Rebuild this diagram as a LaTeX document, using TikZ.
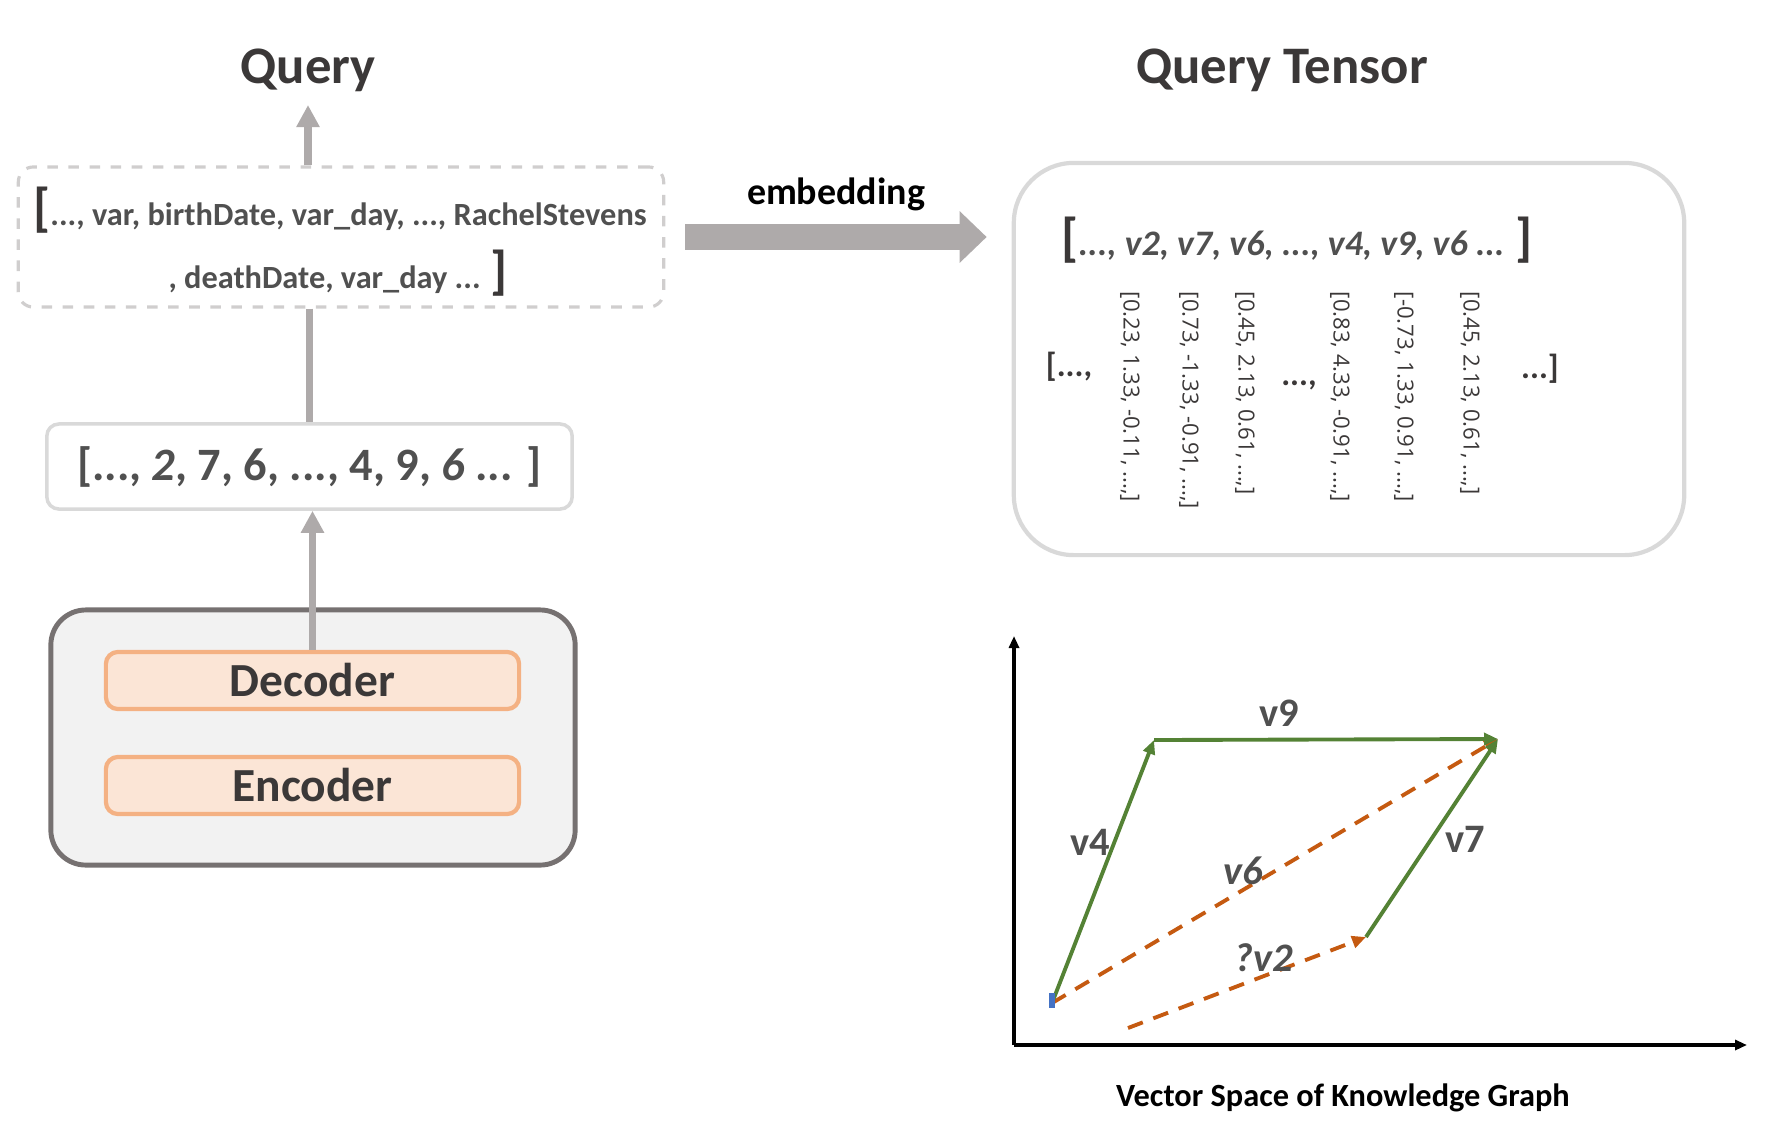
\documentclass[tikz,border=0pt]{standalone}
\usepackage{fontspec}
\setmainfont{Carlito}
\newfontfamily\colfont{Open Sans}
\usetikzlibrary{arrows.meta}

\definecolor{titlegray}{HTML}{3B3838}
\definecolor{textgray}{HTML}{505050}
\definecolor{arrowgray}{HTML}{AEAAAA}
\definecolor{linegray}{HTML}{D9D9D9}
\definecolor{dashgray}{HTML}{D0CECE}
\definecolor{modelgray}{HTML}{767171}
\definecolor{modelfill}{HTML}{F2F2F2}
\definecolor{coderfill}{HTML}{FBE5D6}
\definecolor{coderline}{HTML}{F4B183}
\definecolor{vecgreen}{HTML}{548235}
\definecolor{vecorange}{HTML}{C55A11}
\definecolor{markblue}{HTML}{4472C4}

\tikzset{
  titletext/.style={font=\fontsize{15}{18}\selectfont\bfseries,text=titlegray},
  grayline/.style={draw=arrowgray,line width=2.2pt},
  coderbox/.style={draw=coderline,fill=coderfill,line width=1.2pt,rounded corners=0.12cm,
    minimum width=4.13cm,minimum height=0.57cm,font=\fontsize{13.5}{16}\selectfont\bfseries,text=titlegray},
  vecline/.style={draw=vecgreen,line width=1.1pt,-{Triangle[length=0.14cm,width=0.12cm]}},
  vecdash/.style={draw=vecorange,line width=1.1pt,dash pattern=on 4.5pt off 3.2pt,
    -{Triangle[length=0.14cm,width=0.12cm]}},
  veclabel/.style={font=\fontsize{11.5}{14}\selectfont\bfseries,text=textgray},
  coltext/.style={font=\colfont\fontsize{6.3}{8}\selectfont,text=titlegray,rotate=-90,anchor=west,inner sep=0pt},
  dotstext/.style={font=\fontsize{9.5}{11}\selectfont\bfseries,text=titlegray},
}

\begin{document}
\begin{tikzpicture}[x=0.01cm,y=-0.01cm]
  \useasboundingbox (0,0) rectangle (1770,1139);

  % Titles
  \node[titletext] (qtitle) at (308,70) {Query};
  \node[titletext] (ttitle) at (1282,70) {Query Tensor};
  \coordinate (qtip) at (308,105);

  % Query tokens (dashed box)
  \node[draw=dashgray,dashed,line width=0.9pt,rounded corners=0.15cm,
        minimum width=6.45cm,minimum height=1.40cm] (tokbox) at (341,237) {};
  \node[font=\fontsize{9.2}{11}\selectfont\bfseries,text=textgray] (tok1) at (340,210)
        {{\fontsize{15}{16}\selectfont\color{titlegray}[}..., var, birthDate, var\_day, ..., RachelStevens};
  \node[font=\fontsize{9.2}{11}\selectfont\bfseries,text=textgray] (tok2) at (338,273)
        {, deathDate, var\_day ... {\fontsize{15}{16}\selectfont\color{titlegray}]}};

  % Token ids
  \node[draw=linegray,line width=1pt,rounded corners=0.12cm,
        minimum width=5.25cm,minimum height=0.85cm,
        font=\fontsize{13.2}{16}\selectfont\bfseries,text=textgray] (numbox) at (309.5,466.5)
        {[..., \textit{2}, 7, 6, ..., 4, 9, \textit{6} ... ]};

  % Model
  \node[draw=modelgray,fill=modelfill,line width=1.4pt,rounded corners=0.35cm,
        minimum width=5.24cm,minimum height=2.55cm] (model) at (313,737.5) {};
  \node[coderbox] (dec) at (312.5,680.5) {Decoder};
  \node[coderbox] (enc) at (312.5,785.5) {Encoder};

  % Left connectors
  \draw[grayline,-{Triangle[length=0.22cm,width=0.22cm]}] (tokbox.north -| qtitle) -- (qtip);
  \draw[grayline] (tokbox.south -| numbox) -- (numbox.north);
  \draw[grayline,-{Triangle[length=0.22cm,width=0.22cm]}] (dec.north) -- (dec.north |- numbox.south);

  % Query tensor
  \node[draw=linegray,line width=1.2pt,rounded corners=0.6cm,
        minimum width=6.70cm,minimum height=3.92cm] (tenbox) at (1349,359) {};
  \node[font=\fontsize{10.2}{14}\selectfont\bfseries\itshape,text=textgray] (vlist) at (1297,240)
        {{\fontsize{15}{16}\selectfont\upshape\color{titlegray}[}..., v2, v7, v6, ..., v4, v9, v6 ... {\fontsize{15}{16}\selectfont\upshape\color{titlegray}]}};
  \node[dotstext] (open) at (1069,367) {[...,};
  \node[dotstext] (mid) at (1299,385) {...,};
  \node[dotstext] (close) at (1540,369) {...]};
  \foreach \cx/\vals [count=\i] in {1130/{[0.23, 1.33, -0.11, ...,]},
                                    1189/{[0.73, -1.33, -0.91, ...,]},
                                    1245/{[0.45, 2.13, 0.61, ...,]},
                                    1340/{[0.83, 4.33, -0.91, ...,]},
                                    1404/{[-0.73, 1.33, 0.91, ...,]},
                                    1470/{[0.45, 2.13, 0.61, ...,]}}
    \node[coltext] (col\i) at (\cx,291) {\vals};

  % Embedding arrow
  \draw[draw=arrowgray,line width=0.25cm,-{Triangle[length=0.27cm,width=0.5cm]}]
        ([xshift=0.2cm]tokbox.east) -- ([xshift=-0.25cm]tokbox.east -| tenbox.west);
  \node[font=\fontsize{10.8}{13}\selectfont\bfseries] (emb) at (836,194) {embedding};

  % ---- Vector space ----
  \coordinate (ax0) at (1014,1045);
  \coordinate (axy) at (1014,636);
  \coordinate (axx) at (1747,1045);
  \draw[line width=1.1pt,-{Triangle[length=0.12cm,width=0.1cm]}] (ax0) -- (axy);
  \draw[line width=1.1pt,-{Triangle[length=0.12cm,width=0.1cm]}] (ax0) -- (axx);

  \coordinate (O) at (1052,1003);
  \coordinate (A) at (1154,740);
  \coordinate (B) at (1498,739);
  \coordinate (C) at (1366,937);
  \coordinate (D) at (1128,1028);

  \draw[vecdash] (O) -- (B);
  \draw[vecdash] (D) -- (C);
  \draw[vecline] (O) -- (A);
  \draw[vecline] (A) -- (B);
  \draw[vecline] (C) -- (B);
  \fill[markblue] (1049,993) rectangle (1055,1008);

  \node[veclabel] (l9) at (1279,713) {v9};
  \node[veclabel] (l4) at (1090,842) {v4};
  \node[veclabel] (l7) at (1465,839) {v7};
  \node[veclabel,font=\fontsize{11.5}{14}\selectfont\bfseries\itshape] (l6) at (1243,871) {v6};
  \node[veclabel,font=\fontsize{11.5}{14}\selectfont\bfseries\itshape] (l2) at (1264,958) {?v2};

  \node[font=\fontsize{9.2}{11}\selectfont\bfseries] (cap) at (1343,1098) {Vector Space of Knowledge Graph};
\end{tikzpicture}
\end{document}
